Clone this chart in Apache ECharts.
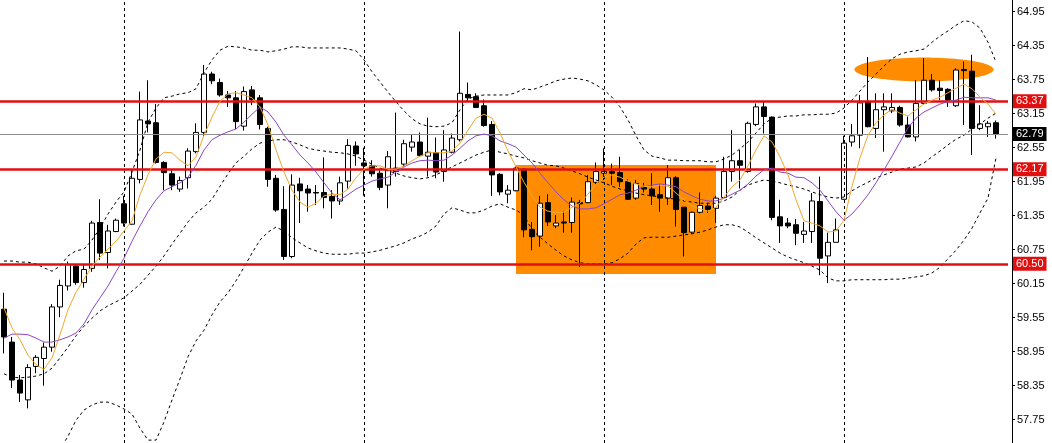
<!DOCTYPE html>
<html><head><meta charset="utf-8">
<script src="https://cdn.jsdelivr.net/npm/echarts@6/dist/echarts.min.js"></script>
<style>html,body{margin:0;padding:0;background:#fff}#c{width:1052px;height:443px}</style>
</head><body><div id="c"></div><script>
// ---- data ----
const OPEN = [59.70,59.12,58.45,58.10,58.69,58.83,59.03,59.74,60.11,60.46,
60.17,60.42,61.23,60.70,61.07,61.56,61.20,61.99,63.02,62.99,
62.29,62.09,61.82,62.02,62.48,62.82,63.85,63.70,63.48,63.43,
62.93,63.57,63.43,62.89,62.01,61.46,60.63,61.91,61.82,61.76,
61.76,61.69,61.61,61.96,62.58,62.28,62.23,62.10,61.89,62.13,
62.26,62.56,62.65,62.40,62.46,62.13,62.47,62.69,63.49,63.45,
63.29,62.96,62.08,61.73,61.79,62.17,61.11,60.99,61.58,61.17,
61.24,61.23,61.58,61.58,61.94,62.10,62.13,62.11,61.95,61.66,
61.85,61.82,61.72,61.66,62.02,61.50,61.06,61.41,61.52,61.48,
61.67,62.13,62.32,62.13,62.96,63.27,63.09,61.33,61.22,61.19,
61.02,61.07,61.60,60.64,60.88,61.64,62.65,62.77,63.36,62.89,
63.22,63.20,63.26,62.95,62.74,63.33,63.74,63.60,63.58,63.29,
63.93,63.90,62.89,62.92,62.99];
const CLOSE = [59.21,58.45,58.22,58.67,58.85,59.03,59.74,60.12,60.49,60.17,
60.40,61.22,60.69,61.08,61.27,61.22,62.01,63.04,62.97,62.29,
62.11,61.89,61.97,62.49,62.82,63.85,63.73,63.48,63.43,63.01,
63.54,63.40,62.96,61.99,61.45,60.63,61.89,61.79,61.75,61.75,
61.67,61.61,61.93,62.59,62.44,62.23,62.09,61.85,62.39,62.19,
62.62,62.65,62.41,62.47,62.12,62.51,62.72,63.51,63.43,63.26,
62.94,62.07,61.77,61.80,62.19,61.10,60.98,61.57,61.24,61.22,
61.22,61.59,61.56,61.95,62.13,62.13,62.10,61.95,61.64,61.92,
61.82,61.70,61.66,62.02,61.46,61.05,61.41,61.53,61.46,61.66,
62.13,62.32,62.24,62.98,63.27,63.10,61.32,61.17,61.17,61.04,
61.08,61.61,60.60,60.88,61.10,62.63,62.76,63.34,62.92,63.22,
63.27,63.26,62.95,62.74,63.33,63.74,63.57,63.56,63.39,63.92,
63.91,62.89,62.97,62.98,62.79];
const LOW = [58.92,58.31,58.06,57.95,58.57,58.35,58.95,59.56,60.03,60.13,
60.08,60.36,60.57,60.42,61.06,61.16,61.19,61.92,62.82,62.27,
61.80,61.80,61.77,61.83,62.45,62.74,63.67,63.45,63.27,62.88,
62.85,63.30,62.87,61.86,61.42,60.57,60.60,61.22,61.42,61.54,
61.48,61.30,61.54,61.83,62.23,61.70,62.04,61.80,61.48,62.04,
62.22,62.48,62.39,62.04,62.01,61.95,62.45,62.66,63.36,63.25,
62.92,61.70,61.71,61.57,61.78,60.97,60.74,60.80,61.17,61.13,
61.05,61.05,60.45,61.57,61.89,61.98,61.89,61.86,61.63,61.63,
61.76,61.54,61.42,61.54,61.16,60.63,61.03,61.39,61.40,61.22,
61.66,61.95,61.83,62.11,62.93,62.80,61.27,60.87,61.13,60.83,
60.87,60.87,60.30,60.16,60.88,61.63,62.57,62.54,62.91,62.72,
62.48,63.16,62.92,62.73,62.66,63.33,63.54,63.39,63.27,63.27,
62.95,62.42,62.86,62.74,62.71];
const HIGH = [59.99,59.21,58.54,58.73,58.89,59.11,59.79,60.22,60.54,60.49,
60.49,61.26,61.64,61.19,61.30,61.70,62.17,63.54,63.74,63.32,
62.31,62.16,62.04,62.54,62.98,64.01,63.89,63.77,63.55,63.55,
63.63,63.64,63.48,62.92,62.07,61.87,62.08,62.02,61.89,61.89,
62.38,61.80,62.04,62.70,62.66,62.55,62.33,62.17,62.49,63.17,
62.69,62.79,62.82,63.08,62.73,62.86,62.80,64.60,63.70,63.51,
63.40,63.02,62.10,61.89,62.22,62.19,61.24,61.70,61.73,61.36,
61.42,61.67,61.63,62.07,62.29,62.54,62.27,62.39,61.99,61.98,
61.93,62.10,61.91,62.24,62.05,61.50,61.42,61.76,61.57,61.70,
62.39,62.86,62.51,63.01,63.33,63.36,63.10,61.63,61.31,61.29,
61.24,61.75,62.04,61.05,61.30,62.76,62.97,63.48,64.15,63.51,
63.51,63.51,63.29,63.10,63.74,64.13,63.85,63.74,63.60,63.95,
64.07,64.19,63.30,63.02,63.03];
const MA_FAST = [59.72,59.37,59.16,58.89,58.72,58.64,58.84,59.25,59.69,60.00,
60.23,60.46,60.62,60.76,60.90,61.08,61.26,61.72,62.07,62.35,
62.47,62.46,62.33,62.23,62.39,62.77,63.09,63.37,63.50,63.52,
63.48,63.43,63.27,62.95,62.51,62.12,61.80,61.59,61.50,61.57,
61.70,61.73,61.72,61.82,62.02,62.17,62.23,62.23,62.17,62.17,
62.23,62.32,62.40,62.46,62.46,62.46,62.49,62.63,62.86,63.07,
63.14,63.07,62.81,62.49,62.21,61.94,61.70,61.50,61.43,61.40,
61.41,61.50,61.57,61.73,61.91,62.03,62.07,62.03,61.96,61.91,
61.87,61.86,61.89,61.87,61.75,61.63,61.52,61.47,61.43,61.50,
61.68,61.86,61.98,62.23,62.51,62.76,62.65,62.39,62.07,61.63,
61.26,61.22,61.17,61.06,61.08,61.27,61.87,62.37,62.77,62.99,
63.13,63.23,63.16,63.11,63.22,63.32,63.39,63.44,63.52,63.60,
63.67,63.59,63.44,63.32,63.14];
const MA_SLOW = [59.19,59.26,59.26,59.25,59.19,59.12,59.12,59.16,59.21,59.28,
59.44,59.69,59.90,60.11,60.36,60.60,60.90,61.17,61.42,61.63,
61.79,61.86,61.93,62.03,62.24,62.51,62.69,62.77,62.83,62.88,
63.00,63.14,63.27,63.18,63.00,62.77,62.60,62.42,62.28,62.12,
61.93,61.75,61.63,61.72,61.82,61.89,61.96,62.00,62.03,62.12,
62.21,62.28,62.32,62.33,62.32,62.33,62.42,62.54,62.67,62.76,
62.79,62.76,62.67,62.62,62.56,62.42,62.28,62.10,61.93,61.77,
61.63,61.52,61.47,61.47,61.49,61.56,61.64,61.72,61.75,61.80,
61.86,61.89,61.91,61.89,61.86,61.77,61.70,61.64,61.61,61.61,
61.66,61.73,61.80,61.91,62.05,62.16,62.19,62.12,62.10,62.03,
62.02,61.93,61.80,61.61,61.42,61.27,61.38,61.54,61.72,61.93,
62.16,62.40,62.65,62.90,63.07,63.18,63.25,63.32,63.36,63.39,
63.44,63.43,63.43,63.43,63.39];
const BB_UPPER = [60.55,60.55,60.53,60.53,60.50,60.43,60.37,60.46,60.64,60.73,
60.76,60.92,61.13,61.38,61.59,61.77,62.12,62.51,63.00,63.25,
63.43,63.46,63.50,63.52,63.59,63.87,64.10,64.27,64.34,64.33,
64.31,64.27,64.27,64.24,64.26,64.29,64.33,64.33,64.31,64.31,
64.31,64.31,64.31,64.29,64.26,64.10,63.89,63.71,63.53,63.36,
63.20,63.06,62.97,62.93,62.92,62.93,62.99,63.22,63.41,63.46,
63.48,63.48,63.48,63.48,63.52,63.59,63.57,63.62,63.67,63.73,
63.76,63.78,63.76,63.73,63.66,63.57,63.44,63.27,63.04,62.76,
62.51,62.40,62.37,62.33,62.33,62.32,62.32,62.32,62.30,62.30,
62.35,62.42,62.53,62.65,62.81,62.97,63.07,63.09,63.11,63.11,
63.13,63.13,63.14,63.14,63.16,63.25,63.39,63.55,63.71,63.85,
63.99,64.12,64.20,64.24,64.26,64.29,64.41,64.52,64.61,64.71,
64.79,64.77,64.66,64.41,64.06];
const BB_MID = [58.56,58.50,58.49,58.50,58.52,58.56,58.66,58.84,59.03,59.23,
59.40,59.54,59.67,59.76,59.83,59.90,60.02,60.14,60.30,60.46,
60.64,60.85,61.04,61.24,61.40,61.50,61.64,61.87,62.09,62.28,
62.40,62.53,62.63,62.67,62.69,62.69,62.65,62.60,62.54,62.51,
62.49,62.47,62.46,62.44,62.40,62.33,62.26,62.19,62.14,62.10,
62.05,62.02,62.00,62.02,62.07,62.14,62.21,62.28,62.35,62.42,
62.47,62.51,62.47,62.44,62.40,62.37,62.32,62.28,62.24,62.23,
62.19,62.14,62.09,62.03,61.98,61.93,61.87,61.82,61.79,61.75,
61.72,61.70,61.68,61.66,61.64,61.61,61.59,61.57,61.57,61.57,
61.61,61.68,61.80,61.89,61.94,61.98,61.96,61.93,61.89,61.86,
61.82,61.77,61.72,61.68,61.66,61.68,61.79,61.87,61.94,62.02,
62.07,62.12,62.17,62.19,62.21,62.28,62.39,62.49,62.60,62.70,
62.77,62.88,62.97,63.07,63.16];
const BB_LOWER = [56.60,56.50,56.50,56.50,56.55,56.70,56.95,57.22,57.46,57.74,
57.92,58.01,58.06,58.06,58.01,57.94,57.85,57.60,57.39,57.39,
57.71,58.10,58.47,58.86,59.14,59.33,59.60,59.83,59.99,60.20,
60.44,60.69,60.92,61.06,61.15,61.08,60.96,60.87,60.78,60.73,
60.69,60.67,60.67,60.67,60.69,60.69,60.71,60.74,60.78,60.82,
60.87,60.94,60.99,61.06,61.17,61.38,61.49,61.45,61.40,61.40,
61.45,61.52,61.56,61.50,61.45,61.36,61.10,60.97,60.85,60.74,
60.64,60.57,60.52,60.50,60.50,60.50,60.52,60.59,60.69,60.85,
60.96,60.97,60.97,60.97,60.99,61.01,61.03,61.06,61.10,61.15,
61.19,61.19,61.15,61.06,60.96,60.87,60.78,60.69,60.62,60.57,
60.52,60.46,60.39,60.25,60.20,60.20,60.22,60.22,60.22,60.22,
60.22,60.23,60.23,60.25,60.27,60.29,60.34,60.44,60.59,60.74,
60.92,61.13,61.40,61.66,62.37];
const LEVELS = [63.37, 62.17, 60.50];
const LAST_PRICE = 62.79;
const TICKS = [57.75,58.35,58.95,59.55,60.15,60.75,61.35,61.95,62.55,63.15,63.75,64.35,64.95];
const GRID_BARS = [15, 45, 75, 105];
const ZONE_BOX = [64, 89, 62.245, 60.32];      // from bar, to bar, top price, bottom price
const ZONE_ELLIPSE = [115, 63.93, 8.7, 0.21];  // centre bar, centre price, half-width (bars), half-height (price)
const Y_MIN = 57.339, Y_MAX = 65.156;

// ---- chart ----
const CATS = Array.from({length: OPEN.length + 1}, (_, i) => String(i));
const OHLC = OPEN.map((o, i) => [o, CLOSE[i], LOW[i], HIGH[i]]);
const FONT = 'Liberation Sans';
const RED = '#e01010';

const lineSeries = (name, data, color, dashed, z) => ({
  name, type: 'line', data, z, showSymbol: false, symbol: 'none', silent: true,
  lineStyle: {color, width: 1, type: dashed ? [3, 3] : 'solid'}, animation: false
});

const chart = echarts.init(document.getElementById('c'));
chart.setOption({
  animation: false,
  backgroundColor: '#ffffff',
  grid: {left: 0, right: 44, top: 0, bottom: 0, containLabel: false},
  xAxis: {type: 'category', data: CATS, boundaryGap: true, show: false},
  yAxis: {
    type: 'value', position: 'right', min: Y_MIN, max: Y_MAX, offset: 4, scale: true,
    axisLine: {show: true, lineStyle: {color: '#000', width: 1}},
    axisTick: {show: true, length: 3, customValues: TICKS, lineStyle: {color: '#000'}},
    axisLabel: {customValues: TICKS, formatter: v => Number(v).toFixed(2), color: '#000',
      fontSize: 11, fontFamily: FONT, margin: 5},
    splitLine: {show: false}
  },
  series: [
    {
      type: 'custom', name: 'box', z: 1, silent: true,
      encode: {x: [0, 1], y: [2, 3]},
      data: [ZONE_BOX],
      renderItem: (params, api) => {
        const a = api.coord([api.value(0), api.value(2)]);
        const b = api.coord([api.value(1), api.value(3)]);
        return {type: 'rect', shape: {x: a[0], y: a[1], width: b[0] - a[0], height: b[1] - a[1]},
          style: {fill: '#ff8c00'}};
      }
    },
    {
      type: 'custom', name: 'ellipse', z: 1, silent: true,
      encode: {x: 0, y: 1},
      data: [ZONE_ELLIPSE],
      renderItem: (params, api) => {
        const c = api.coord([api.value(0), api.value(1)]);
        const t = api.coord([api.value(0), api.value(1) + api.value(3)]);
        const bw = api.size([1, 0])[0];
        const rx = bw * api.value(2), ry = c[1] - t[1];
        const pts = [];
        for (let k = 0; k < 96; k++) {
          const ang = k / 96 * Math.PI * 2;
          pts.push([c[0] + rx * Math.cos(ang), c[1] + ry * Math.sin(ang)]);
        }
        return {type: 'polygon', shape: {points: pts}, style: {fill: '#ff8c00'}};
      }
    },
    {
      type: 'line', name: 'grid', data: [], z: 2, silent: true,
      markLine: {
        silent: true, symbol: 'none', animation: false,
        lineStyle: {color: '#000', width: 1, type: [3, 3]},
        label: {show: false},
        data: GRID_BARS.map(b => ({xAxis: b}))
      }
    },
    {
      type: 'candlestick', name: 'price', data: OHLC, z: 3, barWidth: 5, silent: true,
      itemStyle: {color: '#ffffff', color0: '#000000', borderColor: '#000000', borderColor0: '#000000', borderWidth: 1}
    },
    lineSeries('bbUpper', BB_UPPER, '#000', true, 4),
    lineSeries('bbMid', BB_MID, '#000', true, 4),
    lineSeries('bbLower', BB_LOWER, '#000', true, 4),
    lineSeries('maSlow', MA_SLOW, '#8c46c8', false, 5),
    lineSeries('maFast', MA_FAST, '#f0a830', false, 5),
    {
      type: 'line', name: 'levels', data: [], z: 6, silent: true,
      markLine: {
        silent: true, symbol: 'none', animation: false,
        data: [
          {yAxis: LAST_PRICE, lineStyle: {color: '#8c8c8c', width: 1, type: 'solid'},
            label: {show: true, position: 'end', distance: 5, formatter: p => p.value.toFixed(2),
              color: '#fff', backgroundColor: '#000', padding: [2, 3, 1, 3], fontSize: 11, fontFamily: FONT}}
        ].concat(LEVELS.map(v => ({
          yAxis: v, lineStyle: {color: RED, width: 2.5, type: 'solid'},
          label: {show: true, position: 'end', distance: 5, formatter: p => p.value.toFixed(2),
            color: '#fff', backgroundColor: RED, padding: [2, 3, 1, 3], fontSize: 11, fontFamily: FONT}
        })))
      }
    }
  ]
});
</script></body></html>
